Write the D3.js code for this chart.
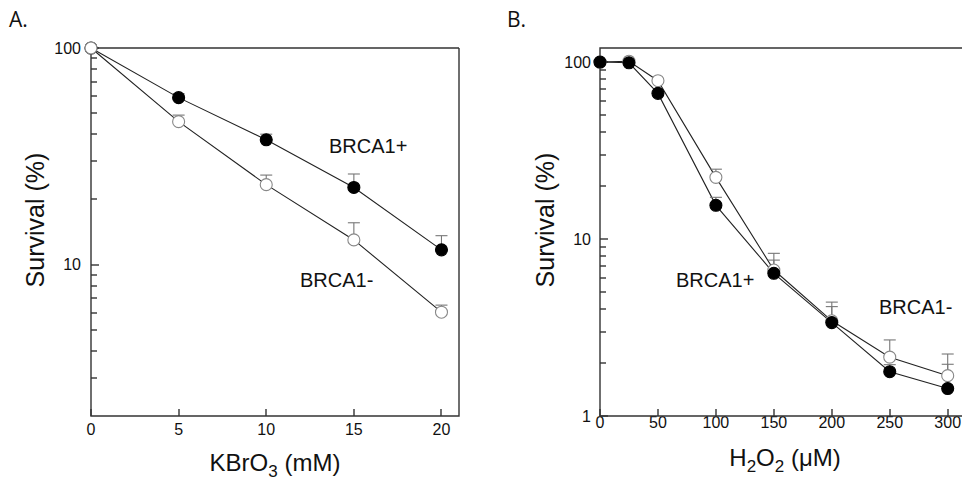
<!DOCTYPE html>
<html>
<head>
<meta charset="utf-8">
<script src="https://d3js.org/d3.v7.min.js"></script>
<style>
    body { margin: 0; background: #fff; }
    text { font-family: "Liberation Sans", Arial, sans-serif; fill: #111; }
    .panel-letter { font-family: "Open Sans", sans-serif; font-size: 21px; }
</style>
</head>
<body>
<div id="chart"></div>
<script>

// Panel A: KBrO3 dose (mM) and survival (%)
const doseA = [0, 5, 10, 15, 20];
const plusA = [100, 59, 37.7, 22.7, 11.7];
const plusAUpper = [null, 61.5, 40, 26.2, 13.6];
const minusA = [100, 45.7, 23.4, 13.0, 6.03];
const minusAUpper = [null, 49, 25.9, 15.6, 6.5];
const xTicksA = [0, 5, 10, 15, 20];
const yMajorA = [10, 100];
const yMinorA = [3, 4, 5, 6, 7, 8, 9, 20, 30, 40, 50, 60, 70, 80, 90];

// Panel B: H2O2 dose (uM) and survival (%)
const doseB = [0, 25, 50, 100, 150, 200, 250, 300];
const plusB = [100, 99, 66.5, 15.5, 6.4, 3.37, 1.78, 1.43];
const plusBUpper = [null, null, null, 17.2, 7.6, 4.15, 1.95, 1.96];
const minusB = [100, 101, 78.4, 22.3, 6.68, 3.45, 2.15, 1.69];
const minusBUpper = [null, null, null, 24.8, 8.3, 4.4, 2.69, 2.24];
const xTicksB = [0, 50, 100, 150, 200, 250, 300];
const yMajorB = [1, 10, 100];
const yMinorB = [2, 3, 4, 5, 6, 7, 8, 9, 20, 30, 40, 50, 60, 70, 80, 90];

const width = 962, height = 480;

const svg = d3.select("#chart")
    .append("svg")
    .attr("width", width)
    .attr("height", height);

function drawPanel(opt) {
    const x = d3.scaleLinear().domain(opt.xDomain).range([opt.left, opt.right]);
    const y = d3.scaleLog().domain(opt.yDomain).range([opt.bottom, opt.top]);
    const g = svg.append("g");

    // ticks pointing inward
    const ticks = g.append("g").attr("stroke", "#333").attr("stroke-width", 1.4);
    ticks.selectAll(".ymin")
        .data(opt.yMinor)
        .join("line")
        .attr("x1", opt.left).attr("x2", opt.left + 6)
        .attr("y1", d => Math.round(y(d))).attr("y2", d => Math.round(y(d)));
    ticks.selectAll(".ymaj")
        .data(opt.yMajor)
        .join("line")
        .attr("x1", opt.left).attr("x2", opt.left + 8)
        .attr("y1", d => Math.round(y(d))).attr("y2", d => Math.round(y(d)));
    ticks.selectAll(".xt")
        .data(opt.xTicks)
        .join("line")
        .attr("x1", d => Math.round(x(d))).attr("x2", d => Math.round(x(d)))
        .attr("y1", opt.bottom).attr("y2", opt.bottom - 7);

    g.append("g").selectAll("text")
        .data(opt.yMajor)
        .join("text")
        .attr("x", opt.yLabelX)
        .attr("y", d => y(d))
        .attr("dy", "0.35em")
        .attr("text-anchor", "end")
        .attr("font-size", 16)
        .text(d3.format("d"));

    g.append("g").selectAll("text")
        .data(opt.xTicks)
        .join("text")
        .attr("x", d => x(d))
        .attr("y", opt.xLabelY)
        .attr("text-anchor", "middle")
        .attr("font-size", 16)
        .text(d3.format("d"));

    // frame
    const frame = d3.path();
    frame.moveTo(opt.boxRight, opt.top);
    frame.lineTo(opt.left, opt.top);
    frame.lineTo(opt.left, opt.bottom);
    frame.lineTo(opt.boxRight, opt.bottom);
    if (opt.closed) frame.lineTo(opt.boxRight, opt.top);
    g.append("path")
        .attr("d", frame.toString())
        .attr("fill", "none")
        .attr("stroke", "#333")
        .attr("stroke-width", 1.4);

    const line = d3.line().x(d => x(d[0])).y(d => y(d[1]));

    opt.series.forEach(s => {
        const pts = opt.dose.map((d, i) => [d, s.values[i]]);
        g.append("path")
            .datum(pts)
            .attr("d", line)
            .attr("fill", "none")
            .attr("stroke", "#222")
            .attr("stroke-width", 1.1);
    });

    opt.series.forEach(s => {
        const pts = opt.dose.map((d, i) => [d, s.values[i], s.upper[i]]).filter(p => p[2] != null);
        const eb = g.append("g").attr("stroke", "#777").attr("stroke-width", 1.1);
        eb.selectAll(".stem")
            .data(pts)
            .join("line")
            .attr("x1", d => x(d[0])).attr("x2", d => x(d[0]))
            .attr("y1", d => y(d[1])).attr("y2", d => y(d[2]));
        eb.selectAll(".cap")
            .data(pts)
            .join("line")
            .attr("x1", d => x(d[0]) - 6).attr("x2", d => x(d[0]) + 6)
            .attr("y1", d => y(d[2])).attr("y2", d => y(d[2]));
    });

    opt.series.forEach(s => {
        const pts = opt.dose.map((d, i) => [d, s.values[i]]);
        g.append("g").selectAll("circle")
            .data(pts)
            .join("circle")
            .attr("cx", d => x(d[0]))
            .attr("cy", d => y(d[1]))
            .attr("r", 6)
            .attr("fill", s.filled ? "#000" : "#fff")
            .attr("stroke", s.filled ? "#000" : "#888")
            .attr("stroke-width", 1.1);
    });

    // axis titles
    g.append("text")
        .attr("transform", `translate(${opt.yTitleX},${220}) rotate(-90)`)
        .attr("text-anchor", "middle")
        .attr("font-size", 25)
        .text("Survival (%)");

    const xt = g.append("text")
        .attr("x", opt.xTitleX)
        .attr("y", opt.xTitleY)
        .attr("text-anchor", "middle")
        .attr("font-size", 24);
    xt.append("tspan").text(opt.xTitle[0]);
    xt.append("tspan").attr("font-size", 17).attr("dy", 6).text(opt.xTitle[1]);
    xt.append("tspan").attr("dy", -6).text(opt.xTitle[2]);
    if (opt.xTitle.length > 3) {
        xt.append("tspan").attr("font-size", 17).attr("dy", 6).text(opt.xTitle[3]);
        xt.append("tspan").attr("dy", -6).text(opt.xTitle[4]);
    }

    opt.labels.forEach(l => {
        g.append("text")
            .attr("x", l.x).attr("y", l.y)
            .attr("font-size", 20)
            .text(l.text);
    });

    svg.append("text")
        .attr("class", "panel-letter")
        .attr("x", opt.letterX).attr("y", 27)
        .text(opt.letter);
}

drawPanel({
    letter: "A.", letterX: 9,
    xDomain: [0, 21], yDomain: [2, 100],
    left: 91, right: 459, top: 48, bottom: 416, boxRight: 459, closed: true,
    xTicks: xTicksA, yMajor: yMajorA, yMinor: yMinorA,
    yLabelX: 81, xLabelY: 435,
    yTitleX: 44, xTitleX: 275, xTitleY: 471,
    xTitle: ["KBrO", "3", " (mM)"],
    dose: doseA,
    series: [
        { values: plusA, upper: plusAUpper, filled: true },
        { values: minusA, upper: minusAUpper, filled: false }
    ],
    labels: [
        { text: "BRCA1+", x: 329, y: 153 },
        { text: "BRCA1-", x: 300, y: 287 }
    ]
});

drawPanel({
    letter: "B.", letterX: 507,
    xDomain: [0, 320], yDomain: [1, 120],
    left: 600, right: 600 + 320 * (347.7 / 300), top: 48, bottom: 416, boxRight: 975, closed: false,
    xTicks: xTicksB, yMajor: yMajorB, yMinor: yMinorB,
    yLabelX: 591, xLabelY: 428,
    yTitleX: 554, xTitleX: 785, xTitleY: 466,
    xTitle: ["H", "2", "O", "2", " (\u03bcM)"],
    dose: doseB,
    series: [
        { values: minusB, upper: minusBUpper, filled: false },
        { values: plusB, upper: plusBUpper, filled: true }
    ],
    labels: [
        { text: "BRCA1+", x: 676, y: 287 },
        { text: "BRCA1-", x: 879, y: 314 }
    ]
});

</script>
</body>
</html>
